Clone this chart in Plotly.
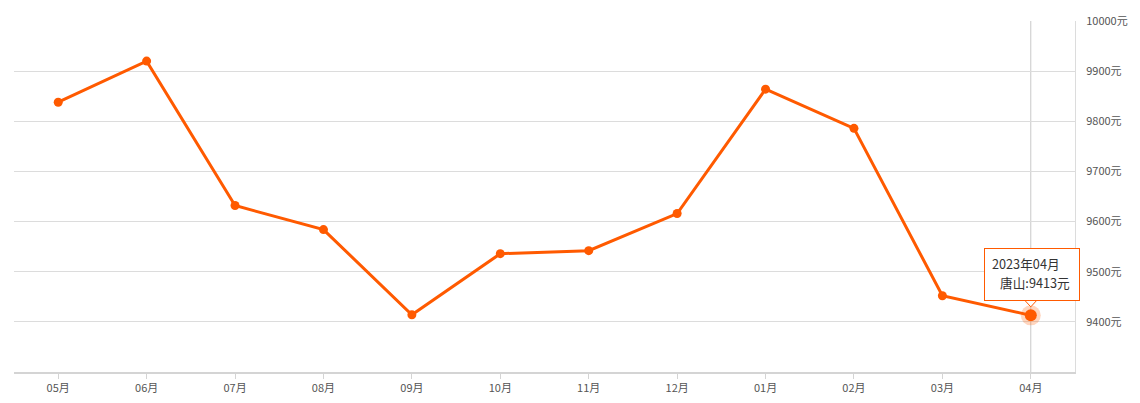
import plotly.graph_objects as go

months = ["05月", "06月", "07月", "08月", "09月", "10月", "11月", "12月", "01月", "02月", "03月", "04月"]
prices = [9838, 9920, 9632, 9584, 9414, 9536, 9542, 9616, 9864, 9786, 9452, 9413]
y_ticks = [9400, 9500, 9600, 9700, 9800, 9900, 10000]
y_tick_text = [f"{v}元" for v in y_ticks]
tooltip_title = "2023年04月"
series_name = "唐山"

ORANGE = "#ff5a00"
FONT = "Noto Sans CJK SC, Microsoft YaHei, sans-serif"
hi = len(months) - 1

fig = go.Figure()
fig.add_trace(go.Scatter(
    x=months, y=prices, mode="lines+markers",
    line=dict(color=ORANGE, width=3),
    marker=dict(color=ORANGE, size=9),
    hoverinfo="skip", showlegend=False,
))
# halo on highlighted point
fig.add_trace(go.Scatter(
    x=[months[hi]], y=[prices[hi]], mode="markers",
    marker=dict(color="rgba(255,90,0,0.25)", size=20),
    hoverinfo="skip", showlegend=False,
))
fig.add_trace(go.Scatter(
    x=[months[hi]], y=[prices[hi]], mode="markers",
    marker=dict(color=ORANGE, size=12),
    hoverinfo="skip", showlegend=False,
))

# crosshair
fig.add_shape(type="line", xref="x", yref="paper", x0=months[hi], x1=months[hi],
              y0=0, y1=1, line=dict(color="#c8c8c8", width=1), layer="below")

# tooltip box
fig.add_annotation(
    x=months[hi], y=prices[hi], xref="x", yref="y",
    text=" ", showarrow=False, xshift=1, yshift=41,
    width=94, height=51, borderpad=0,
    bgcolor="white", bordercolor=ORANGE, borderwidth=1,
)
fig.add_annotation(
    x=months[hi], y=prices[hi], xref="x", yref="y",
    text=tooltip_title, showarrow=False, xanchor="left", xshift=-41, yshift=52,
    font=dict(family=FONT, size=12.7, color="#333"),
)
fig.add_annotation(
    x=months[hi], y=prices[hi], xref="x", yref="y",
    text=f"{series_name}:{prices[hi]}元", showarrow=False, xanchor="right",
    xshift=41, yshift=33,
    font=dict(family=FONT, size=12.7, color="#333"),
)
# tooltip pointer
fig.add_shape(type="path", xref="x", yref="y",
              xsizemode="pixel", ysizemode="pixel",
              xanchor=months[hi], yanchor=prices[hi],
              path="M-6,15 L0,8.5 L6,15",
              fillcolor="white", line=dict(color=ORANGE, width=1), layer="above")

fig.update_layout(
    width=1140, height=403,
    margin=dict(l=14, r=65, t=21, b=31, autoexpand=False),
    paper_bgcolor="white", plot_bgcolor="white",
    font=dict(family=FONT, size=11, color="#555"),
    xaxis=dict(
        type="category", range=[-0.5, len(months) - 0.5], automargin=False,
        showgrid=False, showline=True, linecolor="#d4d4d4", linewidth=2,
        ticks="outside", ticklen=5, tickcolor="#d4d4d4", tickwidth=1,
        tickfont=dict(size=11, color="#555"), fixedrange=True,
    ),
    yaxis=dict(
        side="right", range=[9300, 10000], automargin=False,
        tickvals=y_ticks, ticktext=y_tick_text,
        showgrid=True, gridcolor="#dcdcdc", gridwidth=1,
        showline=True, linecolor="#dcdcdc", linewidth=1,
        zeroline=False, ticks="", ticklabelstandoff=8,
        tickfont=dict(size=11, color="#555"), fixedrange=True,
    ),
)

fig.write_html("out.html", post_script="document.body.style.margin='0';",
               config={"displayModeBar": False})
